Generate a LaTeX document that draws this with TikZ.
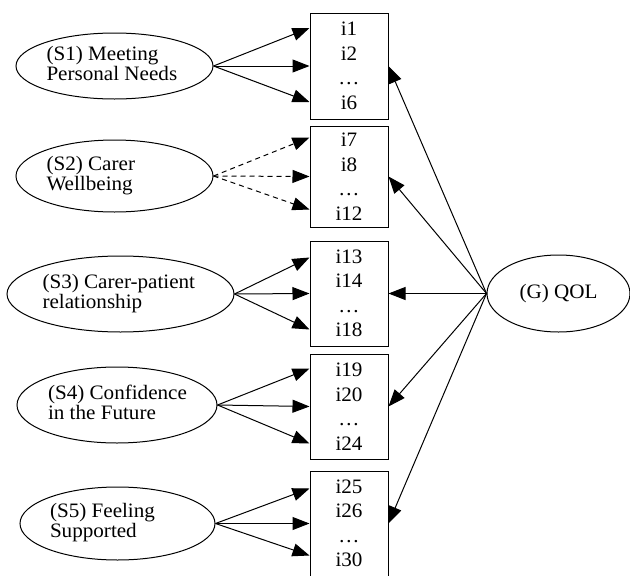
\documentclass[tikz,border=0pt]{standalone}
\usepackage{fontspec}
\setmainfont{Liberation Serif}[FakeStretch=1.03]
\usetikzlibrary{shapes.geometric,arrows.meta}
\newcommand{\elltext}[2]{\raisebox{-2.5pt}{\makebox[#1][l]{\begin{tabular}{@{}l@{}}#2\end{tabular}}}}
\begin{document}
\begin{tikzpicture}[x=1pt,y=-1pt,
  ell/.style={draw,ellipse,line width=1pt,inner sep=0pt,font=\fontsize{20.5}{20}\selectfont},
  itembox/.style={draw,rectangle,line width=1pt,inner sep=0pt,minimum width=78pt,minimum height=105pt,align=center,font=\fontsize{20.5}{24.5}\selectfont},
  arr/.style={line width=1pt,-{Triangle[length=17pt,width=13pt]}},
  darr/.style={arr,dash pattern=on 5pt off 4pt}]
\useasboundingbox (0,0) rectangle (630,576);
% item boxes
\node[itembox,minimum height=106pt] (b1) at (349,66) {i1\\i2\\…\\i6};
\node[itembox,minimum height=101pt] (b2) at (349,176.5) {i7\\i8\\…\\i12};
\node[itembox] (b3) at (349,293.5) {i13\\i14\\…\\i18};
\node[itembox] (b4) at (349,406.5) {i19\\i20\\…\\i24};
\node[itembox] (b5) at (349,523.5) {i25\\i26\\…\\i30};
% ellipses
\node[ell,minimum width=197pt,minimum height=66pt] (s1) at (114.5,66) {\elltext{136pt}{(S1) Meeting\\Personal Needs}};
\node[ell,minimum width=197pt,minimum height=72pt] (s2) at (114.5,176) {\elltext{136pt}{(S2) Carer\\Wellbeing}};
\node[ell,minimum width=227pt,minimum height=76pt] (s3) at (120.5,294) {\elltext{156pt}{(S3) Carer-patient\\relationship}};
\node[ell,minimum width=200pt,minimum height=76pt] (s4) at (117,405) {\elltext{138pt}{(S4) Confidence\\in the Future}};
\node[ell,minimum width=195pt,minimum height=73pt] (s5) at (117.5,523.5) {\elltext{135pt}{(S5) Feeling\\Supported}};
\node[ell,minimum width=143pt,minimum height=77pt] (g) at (558.5,293.5) {(G) QOL};
% specific factor arrows
\draw[arr] (s1.east) -- ([yshift=38pt]b1.west);
\draw[arr] (s1.east) -- (b1.west);
\draw[arr] (s1.east) -- ([yshift=-36pt]b1.west);
\draw[darr] (s2.east) -- ([yshift=39pt]b2.west);
\draw[darr] (s2.east) -- (b2.west);
\draw[darr] (s2.east) -- ([yshift=-33pt]b2.west);
\draw[arr] (s3.east) -- ([yshift=36pt]b3.west);
\draw[arr] (s3.east) -- (b3.west);
\draw[arr] (s3.east) -- ([yshift=-36pt]b3.west);
\draw[arr] (s4.east) -- ([yshift=38pt]b4.west);
\draw[arr] (s4.east) -- (b4.west);
\draw[arr] (s4.east) -- ([yshift=-37pt]b4.west);
\draw[arr] (s5.east) -- ([yshift=35pt]b5.west);
\draw[arr] (s5.east) -- (b5.west);
\draw[arr] (s5.east) -- ([yshift=-32pt]b5.west);
% general factor arrows
\foreach \b in {b1,b2,b3,b4,b5}
  \draw[arr] (g.west) -- (\b.east);
\end{tikzpicture}
\end{document}
